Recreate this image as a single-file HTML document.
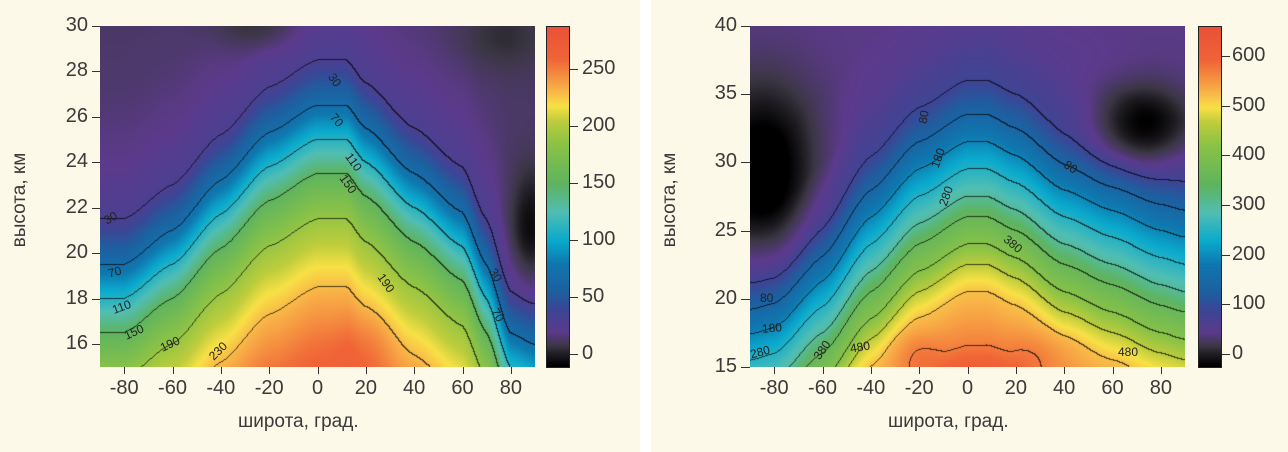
<!DOCTYPE html>
<html><head><meta charset="utf-8"><style>
html,body{margin:0;padding:0;background:#fff;}
#w{position:relative;width:1288px;height:452px;overflow:hidden;background:#fff;font-family:"Liberation Sans","DejaVu Sans",sans-serif;color:#3a3a3a;}
.p{position:absolute;top:0;height:452px;background:#fdf9e8;}
canvas{position:absolute;}
.t{position:absolute;font-size:20px;line-height:20px;white-space:nowrap;}
.tr{text-align:right;width:40px;}
.tc{text-align:center;width:60px;}
.tk{position:absolute;background:#333;}
.lab{position:absolute;font-size:12px;color:#222;white-space:nowrap;}
.box{position:absolute;border:1px solid #222;box-sizing:border-box;}
</style></head><body><div id="w">
<div class="p" style="left:0;width:640px"></div>
<div class="p" style="left:651px;width:637px"></div>
<canvas id="c1" width="435" height="341" style="left:100px;top:26px"></canvas>
<canvas id="c2" width="435" height="341" style="left:750px;top:26px"></canvas>
<canvas id="b1" width="24" height="342" style="left:546px;top:26px"></canvas>
<canvas id="b2" width="24" height="342" style="left:1198px;top:26px"></canvas>
<div class="box" style="left:546px;top:26px;width:24px;height:342px"></div>
<div class="box" style="left:1198px;top:26px;width:24px;height:342px"></div>
<div id="txt"></div>
<div class="t" style="left:0;top:130px;width:40px;height:140px"><div style="position:absolute;left:-50px;top:60px;width:140px;text-align:center;transform:rotate(-90deg);font-size:19px">высота, км</div></div>
<div class="t" style="left:650px;top:130px;width:40px;height:140px"><div style="position:absolute;left:-50px;top:60px;width:140px;text-align:center;transform:rotate(-90deg);font-size:19px">высота, км</div></div>
<div class="t" style="left:238px;top:412px;font-size:19px">широта, град.</div>
<div class="t" style="left:888px;top:412px;font-size:19px">широта, град.</div>
</div>
<script>
function interp(tab,x){for(var i=0;i<tab.length-1;i++){if(x<=tab[i+1][0]){var a=tab[i],b=tab[i+1];var t=(x-a[0])/(b[0]-a[0]);t=Math.max(0,Math.min(1,t));t=t*t*(3-2*t)*0.5+t*0.5;return a[1]+(b[1]-a[1])*t;}}return tab[tab.length-1][1];}
function interpL(tab,x){if(x<=tab[0][0])return tab[0][1];for(var i=0;i<tab.length-1;i++){if(x<=tab[i+1][0]){var a=tab[i],b=tab[i+1];var t=(x-a[0])/(b[0]-a[0]);return a[1]+(b[1]-a[1])*t;}}return tab[tab.length-1][1];}
var cmap=[[-10,[0,0,0]],[0,[30,28,32]],[8,[60,55,70]],[20,[92,58,140]],[40,[60,70,150]],[55,[30,95,160]],[80,[15,120,175]],[100,[10,170,205]],[125,[80,190,180]],[150,[95,180,95]],[185,[140,195,70]],[205,[190,205,60]],[218,[248,225,70]],[235,[248,170,70]],[260,[240,100,55]],[290,[235,80,55]]];
function col(v,sc){v=v/sc;var c=cmap;if(v<=c[0][0])return c[0][1];for(var i=0;i<c.length-1;i++){if(v<=c[i+1][0]){var t=(v-c[i][0])/(c[i+1][0]-c[i][0]);return [0,1,2].map(function(k){return c[i][1][k]+(c[i+1][1][k]-c[i][1][k])*t;});}}return c[c.length-1][1];}
function g(lat,z,la,za,sl,sz,a){return a*Math.exp(-((lat-la)*(lat-la))/(2*sl*sl)-((z-za)*(z-za))/(2*sz*sz));}
var P1={z0:15,z1:30,sc:1,
 F:[[10,285],[13,275],[16,255],[18.5,230],[21.5,190],[23.5,150],[25,110],[26.5,70],[28.5,30],[31,20],[34,15],[40,12]],
 C:[[-90,-7],[-80,-7],[-60,-5.5],[-40,-3.3],[-20,-1.2],[0,0],[12,0],[20,-1],[40,-3],[60,-4.7],[70,-7],[80,-10],[90,-10.5]],
 extra:function(lat,z){return g(lat,z,88,21,6,1.8,-25)+g(lat,z,-25,30,12,0.8,-12)+g(lat,z,75,29.5,12,1,-8)+g(lat,z,20,16,8,1,8);},
 levels:[30,70,110,150,190,230,270]};
var P2={z0:15,z1:40,sc:600/285,
 F:[[10,580],[15,560],[17,520],[20.5,480],[22.5,430],[24,380],[26,330],[27.5,280],[29.5,230],[31.5,180],[33.5,130],[36,80],[40,50],[45,40]],
 C:[[-90,-14],[-80,-13.5],[-60,-10],[-40,-5.5],[-20,-2],[0,0],[8,0],[20,-1],[40,-3.5],[60,-5],[80,-6.5],[90,-7]],
 extra:function(lat,z){return g(lat,z,-85,29,16,4.5,-85)+g(lat,z,72,32.5,15,2.2,-80)+g(lat,z,-20,16,8,1.2,25)+g(lat,z,30,16,10,1.2,20);},
 levels:[80,130,180,230,280,330,380,430,480,530]};
function draw(id,P){var cv=document.getElementById(id),ctx=cv.getContext('2d');var W=cv.width,H=cv.height;var im=ctx.createImageData(W,H);var f=new Float32Array(W*H);
 for(var y=0;y<H;y++){var z=P.z1-(y+0.5)/H*(P.z1-P.z0);for(var x=0;x<W;x++){var lat=-90+(x+0.5)/W*180;var c=interp(P.C,lat);f[y*W+x]=interpL(P.F,z-c)+P.extra(lat,z);}}
 function band(v){var b=0;for(var i=0;i<P.levels.length;i++)if(v>=P.levels[i])b++;return b;}
 for(var y=0;y<H;y++)for(var x=0;x<W;x++){var v=f[y*W+x];var c=col(v,P.sc);var b=band(v);var line=(x<W-1&&band(f[y*W+x+1])!=b)||(y<H-1&&band(f[(y+1)*W+x])!=b);var k=(y*W+x)*4;if(line){c=[c[0]*0.3,c[1]*0.3,c[2]*0.3];}im.data[k]=c[0];im.data[k+1]=c[1];im.data[k+2]=c[2];im.data[k+3]=255;}
 ctx.putImageData(im,0,0);}
function bar(id,vmin,vmax,sc){var cv=document.getElementById(id),ctx=cv.getContext('2d');for(var y=0;y<cv.height;y++){var v=vmax-(y/cv.height)*(vmax-vmin);var c=col(v,sc);ctx.fillStyle='rgb('+(c[0]|0)+','+(c[1]|0)+','+(c[2]|0)+')';ctx.fillRect(0,y,cv.width,1);}}
draw('c1',P1);draw('c2',P2);bar('b1',-12,288,1);bar('b2',-25,610,600/285);
var h='';function T(x,y,s,cls){h+='<div class="t '+cls+'" style="left:'+x+'px;top:'+y+'px">'+s+'</div>';}
function K(x,y,w,hh){h+='<div class="tk" style="left:'+x+'px;top:'+y+'px;width:'+w+'px;height:'+hh+'px"></div>';}
for(var v=16;v<=30;v+=2){var y=367-(v-15)/15*341;K(92,y,8,1);T(48,y-11,v,'tr');}
for(var v=-80;v<=80;v+=20){var x=100+(v+90)/180*435;K(x,367,1,7);T(x-30,378,v,'tc');}
for(var v=0;v<=250;v+=50){var y=354-v*(57/50);K(570,y,8,1);T(582,y-11,v,'');}
for(var v=15;v<=40;v+=5){var y=367-(v-15)/25*341;K(741,y,9,1);T(697,y-11,v,'tr');}
for(var v=-80;v<=80;v+=20){var x=750+(v+90)/180*435;K(x,367,1,7);T(x-30,378,v,'tc');}
for(var v=0;v<=600;v+=100){var y=354-v*(49.7/100);K(1222,y,8,1);T(1232,y-11,v,'');}
function L(x,y,s,r){h+='<div class="lab" style="left:'+x+'px;top:'+y+'px;transform:rotate('+r+'deg)">'+s+'</div>';}
L(328,73,'30',55);L(330,113,'70',50);L(344,155,'110',55);L(338,177,'150',55);L(376,276,'190',55);L(104,211,'30',-30);L(108,265,'70',-15);L(112,300,'110',-20);L(124,325,'150',-25);L(160,337,'190',-25);L(208,344,'230',-45);L(489,268,'30',60);L(491,308,'70',60);
L(917,110,'80',-80);L(928,151,'180',-70);L(936,189,'280',-70);L(1003,237,'380',40);L(1064,160,'80',35);L(760,291,'80',0);L(762,321,'180',-5);L(750,345,'280',-15);L(812,343,'380',-55);L(850,340,'480',-10);L(1118,345,'480',0);
document.getElementById('txt').innerHTML=h;
</script>
</body></html>
